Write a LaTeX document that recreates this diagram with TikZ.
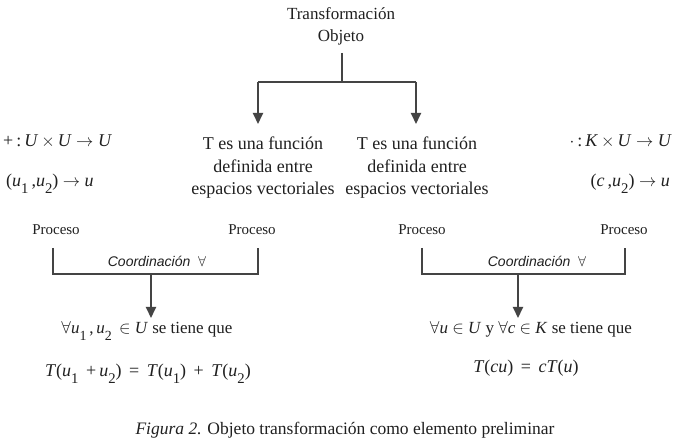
\documentclass[tikz,border=0pt]{standalone}
\usepackage{fontspec}
\setmainfont{Liberation Serif}
\setsansfont{Liberation Sans}
\usetikzlibrary{arrows.meta}
\definecolor{lc}{HTML}{444444}
\definecolor{tc}{HTML}{202020}
\newcommand\mv[1]{\textit{#1}}
\newcommand\sbs[1]{\raisebox{-0.38em}{\scalebox{0.82}{#1}}}
\begin{document}
\begin{tikzpicture}[x=1pt,y=-1pt,
  every node/.style={inner sep=0pt, text=tc},
  ttl/.style={font=\fontsize{17}{22}\selectfont, anchor=base},
  big/.style={font=\fontsize{18}{22}\selectfont, anchor=base},
  mid/.style={font=\fontsize{17}{20}\selectfont, anchor=base},
  proc/.style={font=\fontsize{15}{18}\selectfont, anchor=base},
  coordlbl/.style={font=\sffamily\itshape\fontsize{14}{16}\selectfont, anchor=base},
  ln/.style={draw=lc, line width=2pt},
  arr/.style={ln, -{Triangle[width=10pt,length=11pt]}}]
\useasboundingbox (0,0) rectangle (681,443);
\fill[white] (0,0) rectangle (681,443);

% title
\node[ttl] (t1) at (341,20) {Transformación};
\node[ttl] (t2) at (341,42) {Objeto};
\coordinate (ts) at (342,53);
\coordinate (tj) at (342,82);
\coordinate (la) at (258,82);
\coordinate (ra) at (416,82);
\node[big] (l1) at (263,150) {T es una función};
\node[big] (l2) at (263,173) {definida entre};
\node[big] (l3) at (263,195) {espacios vectoriales};
\node[big] (r1) at (417,150) {T es una función};
\node[big] (r2) at (417,173) {definida entre};
\node[big] (r3) at (417,195) {espacios vectoriales};
\draw[ln] (ts) -- (tj);
\draw[ln] (la) -- (ra);
\draw[arr] (la) -- (258,124) coordinate (lat);
\draw[arr] (ra) -- (416,124) coordinate (rat);

% left math
\node[big, anchor=base west] (m1) at (3,147) {+\,:\,\mv{U}\,$\times$\,\mv{U} $\rightarrow$ \mv{U}};
\node[big, anchor=base west] (m2) at (6,187) {(\mv{u}\sbs{1}\,,\mv{u}\sbs{2}) $\rightarrow$ \mv{u}};
% right math
\node[big, anchor=base east] (m3) at (672,147) {$\cdot$\,:\,\mv{K}\,$\times$\,\mv{U} $\rightarrow$ \mv{U}};
\node[big, anchor=base east] (m4) at (670,187) {(\mv{c}\,,\mv{u}\sbs{2}) $\rightarrow$ \mv{u}};

% Proceso
\node[proc] (p1) at (56,235) {Proceso};
\node[proc] (p2) at (252,235) {Proceso};
\node[proc] (p3) at (422,235) {Proceso};
\node[proc] (p4) at (624,235) {Proceso};

% brackets
\coordinate (b1a) at (53,248);
\coordinate (b1b) at (258,248);
\coordinate (b1m) at (151,274);
\draw[ln] (b1a) -- (53,274) -- (258,274) -- (b1b);
\node[coordlbl] (c1) at (157,267) {Coordinación \ $\forall$};
\coordinate (b2a) at (422,248);
\coordinate (b2b) at (625,248);
\coordinate (b2m) at (518,274);
\draw[ln] (b2a) -- (422,274) -- (625,274) -- (b2b);
\node[coordlbl] (c2) at (537,267) {Coordinación \ $\forall$};

% bottom
\node[mid] (f1) at (147,334) {$\forall$\mv{u}\sbs{1}\,,\,\mv{u}\sbs{2}\, $\in$ \mv{U} se tiene que};
\node[big] (f2) at (148,377) {\mv{T}(\mv{u}\sbs{1}\, +\,\mv{u}\sbs{2}) \,=\, \mv{T}(\mv{u}\sbs{1}) \,+\, \mv{T}(\mv{u}\sbs{2})};
\node[mid] (g1) at (531,334) {$\forall$\mv{u} $\in$ \mv{U} y $\forall$\mv{c} $\in$ \mv{K} se tiene que};
\node[big] (g2) at (526,373) {\mv{T}(\mv{cu}) \,=\, \mv{cT}(\mv{u})};
\draw[arr] (b1m) -- (151,318);
\draw[arr] (b2m) -- (518,318);

% caption
\node[font=\fontsize{17.5}{20}\selectfont, anchor=base] (cap) at (345,435) {\textit{Figura 2.} Objeto transformación como elemento preliminar};
\end{tikzpicture}
\end{document}
